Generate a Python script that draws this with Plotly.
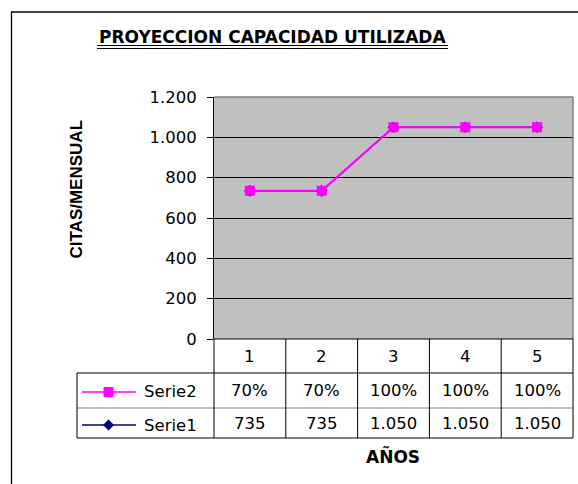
import plotly.graph_objects as go

# ---- data ----
years = [1, 2, 3, 4, 5]
serie1 = [735, 735, 1050, 1050, 1050]          # citas mensuales
serie2 = [0.70, 0.70, 1.00, 1.00, 1.00]        # capacidad utilizada
serie_names = ["Serie1", "Serie2"]
title_text = "PROYECCION CAPACIDAD UTILIZADA"
y_title = "CITAS/MENSUAL"
x_title = "AÑOS"
y_max = 1200
y_step = 200

W, H = 578, 484
def px(x): return x / W
def py(y): return 1 - y / H

# plot-area pixel box
L, R, T, B = 214, 573, 97, 339
# table rows (pixels)
ROW_HDR = (339, 373)
ROW_S2 = (373, 408)
ROW_S1 = (408, 438)
LEG_L = 77

FONT = "DejaVu Sans"
FS = 16.5
C_S1 = "#000080"
C_S2 = "#FF00FF"

fig = go.Figure()
fig.add_trace(go.Scatter(x=years, y=serie1, name=serie_names[0], mode="lines+markers",
                         line=dict(color=C_S1, width=1.5),
                         marker=dict(symbol="diamond", size=9, color=C_S1),
                         yaxis="y", showlegend=False))
fig.add_trace(go.Scatter(x=years, y=serie2, name=serie_names[1], mode="lines+markers",
                         line=dict(color=C_S2, width=2),
                         marker=dict(symbol="square", size=10, color=C_S2),
                         yaxis="y2", showlegend=False))

y2_max = y_max * max(serie2) / max(serie1)

shapes = []
def hline(x0, x1, y, color="black", w=1):
    shapes.append(dict(type="line", xref="paper", yref="paper", x0=px(x0), x1=px(x1),
                       y0=py(y), y1=py(y), line=dict(color=color, width=w)))
def vline(x, y0, y1, color="black", w=1, xref="paper"):
    shapes.append(dict(type="line", xref=xref, yref="paper",
                       x0=px(x) if xref == "paper" else x, x1=px(x) if xref == "paper" else x,
                       y0=py(y0), y1=py(y1), line=dict(color=color, width=w)))

# outer chart frame (top and left edges visible)
hline(11, W, 12, w=1.5)
vline(11.5, 12, H, w=1.3)
# plot area top/right gray border
hline(L, R, T, color="#808080", w=1.5)
vline(R, T, B, color="#808080", w=1.5)
# table lines
hline(L, R, B)
hline(LEG_L, R, ROW_HDR[1])
hline(LEG_L, R, ROW_S2[1], color="#808080")
hline(LEG_L, R, ROW_S1[1])
vline(LEG_L, ROW_S2[0], ROW_S1[1])
vline(L, B, ROW_S1[1])
vline(R, B, ROW_S1[1])
for i in range(len(years) - 1):
    vline((years[i] + years[i + 1]) / 2, B, ROW_S1[1], xref="x")
# title double underline
hline(97, 448, 45.5, w=1.2)
hline(97, 448, 48.5, w=1.2)

# legend keys in table
def key(yc, color, symbol):
    shapes.append(dict(type="line", xref="paper", yref="paper", x0=px(82), x1=px(136),
                       y0=py(yc), y1=py(yc), line=dict(color=color, width=1.5)))
    cx = 108.5
    if symbol == "square":
        shapes.append(dict(type="rect", xref="paper", yref="paper", x0=px(cx - 5), x1=px(cx + 5),
                           y0=py(yc + 5), y1=py(yc - 5), fillcolor=color, line=dict(width=0)))
    else:
        path = (f"M {px(cx - 5.5)} {py(yc)} L {px(cx)} {py(yc - 5.5)} "
                f"L {px(cx + 5.5)} {py(yc)} L {px(cx)} {py(yc + 5.5)} Z")
        shapes.append(dict(type="path", xref="paper", yref="paper", path=path,
                           fillcolor=color, line=dict(width=0)))
key(392, C_S2, "square")
key(425, C_S1, "diamond")

ann = []
def text(x, y, s, size=FS, bold=False, xref="paper", xanchor="center", family=FONT, angle=0):
    ann.append(dict(x=px(x) if xref == "paper" else x, y=py(y), xref=xref, yref="paper",
                    text=f"<b>{s}</b>" if bold else s, showarrow=False,
                    xanchor=xanchor, yanchor="middle", textangle=angle,
                    font=dict(family=family, size=size, color="black")))

def fmt_int(v):
    return f"{v:,}".replace(",", ".")

for yr, v1, v2 in zip(years, serie1, serie2):
    text(yr, 356, str(yr), xref="x")
    text(yr, 390.5, f"{v2:.0%}", xref="x")
    text(yr, 423.5, fmt_int(v1), xref="x")
text(142, 391, serie_names[1], xanchor="left")
text(142, 425, serie_names[0], xanchor="left")

text(272.5, 37, title_text, size=17, bold=True, family="DejaVu Sans")
text(75.5, 189, y_title, size=17, bold=True, family="Liberation Sans", angle=-90)
text(393, 456, x_title, size=17, bold=True, family="DejaVu Sans")

fig.update_layout(
    width=W, height=H, autosize=False,
    margin=dict(l=0, r=0, t=0, b=0, pad=0, autoexpand=False),
    paper_bgcolor="white", plot_bgcolor="#C0C0C0",
    separators=",.",
    showlegend=False,
    xaxis=dict(domain=[px(L), px(R)], range=[0.5, 5.5], visible=False, fixedrange=True,
               automargin=False),
    yaxis=dict(domain=[py(B), py(T)], range=[0, y_max], dtick=y_step, tick0=0,
               tickformat=",d", showgrid=True, gridcolor="black", gridwidth=1,
               zeroline=False, showline=True, linecolor="black", linewidth=1,
               ticks="outside", ticklen=6, tickcolor="black", ticklabelstandoff=7,
               automargin=False,
               tickfont=dict(family=FONT, size=FS, color="black")),
    yaxis2=dict(domain=[py(B), py(T)], range=[0, y2_max], overlaying="y",
                visible=False),
    shapes=shapes, annotations=ann,
)

post = ("document.body.style.margin='0';"
        "var d=document.getElementById('{plot_id}');"
        "d.style.position='absolute';d.style.left='0px';d.style.top='0px';")
fig.write_html("out.html", post_script=post,
               config=dict(displayModeBar=False, responsive=False, staticPlot=True))
